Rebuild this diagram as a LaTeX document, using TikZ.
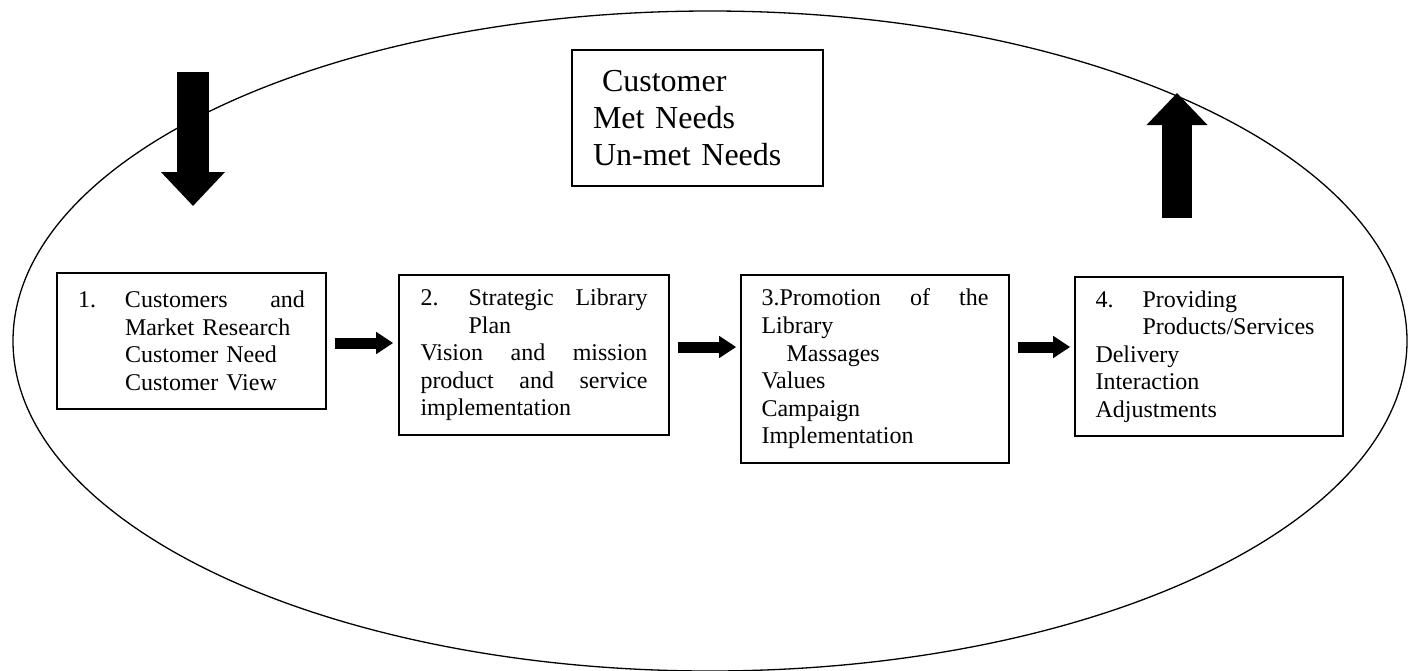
\documentclass[tikz,border=0pt]{standalone}
\usepackage{fontspec}
\setmainfont{Liberation Serif}
\usetikzlibrary{arrows.meta,calc}
\begin{document}
\begin{tikzpicture}[x=1pt,y=-1pt,
  stagebox/.style={draw,line width=1.6pt,align=left,inner ysep=0pt,
    font=\fontsize{24}{27.6}\selectfont},
  needbox/.style={draw,line width=1.6pt,align=left,inner ysep=0pt,
    font=\fontsize{32}{37}\selectfont},
  flow/.style={line width=11pt,-{Triangle[length=17pt,width=21pt]}},
  bigdown/.style={line width=32pt,-{Triangle[length=34pt,width=62pt]}},
  bigup/.style={line width=30pt,-{Triangle[length=32pt,width=59pt]}}]
\useasboundingbox (0,0) rectangle (1408,670);

% surrounding customer cycle
\draw[line width=1.3pt] (710,341) ellipse [x radius=697, y radius=330];

% customer needs
\node[needbox,text width=209pt,inner xsep=21pt,minimum height=136pt] (needs) at (697.5,118)
  {\hspace*{9pt}Customer\\
   Met Needs\\
   Un-met Needs};

% the four stages (justified lines spread with \hfill)
\node[stagebox,text width=227pt,inner xsep=21pt,minimum height=136pt] (s1) at (191.5,341)
  {\makebox[47pt][l]{1.}\makebox[180pt][l]{Customers\hfill and}\\
   \hspace*{47pt}Market Research\\
   \hspace*{47pt}Customer Need\\
   \hspace*{47pt}Customer View};

\node[stagebox,text width=227pt,inner xsep=21.5pt,minimum height=160pt] (s2) at (534,355)
  {\makebox[48pt][l]{2.}\makebox[179pt][l]{Strategic\hfill Library}\\
   \hspace*{48pt}Plan\\
   \makebox[227pt][l]{Vision\hfill and\hfill mission}\\
   \makebox[227pt][l]{product\hfill and\hfill service}\\
   implementation};

\node[stagebox,text width=227pt,inner xsep=20.5pt,minimum height=188pt] (s3) at (875,369)
  {\makebox[227pt][l]{3.Promotion\hfill of\hfill the}\\
   Library\\
   \hspace*{25pt}Massages\\
   Values\\
   Campaign\\
   Implementation};

\node[stagebox,text width=227pt,inner xsep=20.5pt,minimum height=159pt] (s4) at (1209,356.5)
  {\makebox[47pt][l]{4.}Providing\\
   \hspace*{47pt}Products/Services\\
   Delivery\\
   Interaction\\
   Adjustments};

% flow between stages
\draw[flow] ($(s1.east)+(8,2)$) -- ($(s2.west)+(-5,-12)$);
\draw[flow] ($(s2.east)+(8,-8)$) -- ($(s3.west)+(-4,-22)$);
\draw[flow] ($(s3.east)+(8,-22)$) -- ($(s4.west)+(-4,-9.5)$);

% input and output of the cycle
\coordinate (inTop) at (193,72);
\coordinate (inTip) at (193,206);
\coordinate (outBase) at (1177,218);
\coordinate (outTip) at (1177,93);
\draw[bigdown] (inTop) -- (inTip);
\draw[bigup] (outBase) -- (outTip);
\end{tikzpicture}
\end{document}
